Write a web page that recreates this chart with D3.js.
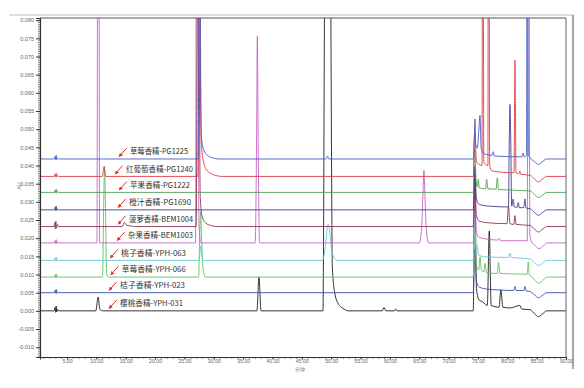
<!DOCTYPE html>
<html><head><meta charset="utf-8">
<script src="https://cdn.jsdelivr.net/npm/d3@7"></script>
<style>body{margin:0;background:#fff}svg{display:block}</style>
</head><body><svg id="c" width="584" height="388"></svg>
<script>
// ---------------- DATA ----------------
const sampleNames = ["樱桃香精-YPH-031","桔子香精-YPH-023","草莓香精-YPH-066","桃子香精-YPH-063","杂果香精-BEM1003",
  "菠萝香精-BEM1004","橙汁香精-PG1690","苹果香精-PG1222","红葡萄香精-PG1240","草莓香精-PG1225"];
const baselines = [0.000, 0.0050, 0.0093, 0.0139, 0.0187, 0.0232, 0.0278, 0.0326, 0.0370, 0.0418];
const xTickValues = [5,10,15,20,25,30,35,40,45,50,55,60,65,70,75,80,85,90];
const yTickValues = [-0.010,-0.005,0.000,0.005,0.010,0.015,0.020,0.025,0.030,0.035,0.040,0.045,0.050,0.055,0.060,0.065,0.070,0.075,0.080];

// [minutes, AU above the trace baseline]
const tYPH031 = [[0.4,0],[2.8,0],[2.95,0.0009],[3.05,-0.0004],[3.15,0.0013],[3.25,-0.0003],[3.4,0.0004],[3.6,0],
 [9.9,0],[10.3,0.0038],[10.6,0.0004],[11.1,0],
 [37.35,0],[37.7,0.0093],[38.05,0],
 [48.6,0],[48.85,0.08],[49.4,0.3],[49.95,0.08],[50.2,0.012],[50.6,0.005],[51.2,0.002],[52,0.0007],[53,0],
 [58.7,0],[59,0.0009],[59.3,0],[60.8,0],[61,0.0005],[61.2,0],
 [74.2,0],[74.45,0.039],[74.75,0.006],[75.2,0.003],[75.8,0.0025],[76.6,0.0015],[76.93,0.022],[77.25,0.0015],[78.6,0.001],[78.9,0.0058],[79.25,0.001],[80.5,0.0008],[82.15,0.0015],[82.45,0.0005],[83.9,0.0003],[84.7,-0.0009],[85.3,-0.0016],[86.1,-0.0007],[86.7,0],[90,0]];
const tYPH023 = [[0.4,0],[2.8,0],[2.95,0.0006],[3.05,-0.0002],[3.15,0.0009],[3.25,-0.0002],[3.4,0.0003],[3.6,0],
 [74.2,0],[74.45,0.012],[74.75,0.003],[75.3,0.0015],[76.5,0.001],[78,0.0008],[81.1,0.0006],[81.3,0.0017],[81.5,0.0006],[82.8,0.0006],[83.0,0.0017],[83.2,0.0005],[83.9,0.0003],[84.7,-0.0007],[85.3,-0.0014],[86.1,-0.0006],[86.7,0],[90,0]];
const tYPH066 = [[0.4,0],[2.8,0],[2.95,0.0006],[3.05,-0.0002],[3.15,0.0009],[3.25,-0.0002],[3.4,0.0003],[3.6,0],
 [11.05,0],[11.25,0.02],[11.4,0.0305],[11.55,0.02],[11.75,0.001],[12.1,0],
 [27.4,0],[27.62,0.012],[27.77,0.018],[27.92,0.011],[28.2,0.002],[28.6,0],
 [74.2,0],[74.45,0.012],[74.75,0.003],[75.15,0.002],[75.35,0.0056],[75.6,0.0018],[76.0,0.0015],[76.2,0.0038],[76.45,0.0012],[78.3,0.001],[78.5,0.004],[78.75,0.001],[83.4,0.0008],[83.57,0.0042],[83.75,0.0006],[84.0,0.0003],[84.75,-0.0009],[85.35,-0.0017],[86.15,-0.0007],[86.8,0],[90,0]];
const tYPH063 = [[0.4,0],[2.8,0],[2.95,0.0006],[3.05,-0.0002],[3.15,0.0009],[3.25,-0.0002],[3.4,0.0003],[3.6,0],
 [27.5,0],[27.8,0.004],[28.1,0],
 [48.5,0],[48.95,0.003],[49.3,0.0085],[49.5,0.0099],[49.7,0.0088],[50.0,0.004],[50.4,0.001],[51,0],
 [74.2,0],[74.45,0.012],[74.65,0.004],[74.8,0.0044],[75.1,0.0015],[76,0.001],[80.25,0.0008],[80.46,0.002],[80.7,0.0008],[83.9,0.0004],[84.7,-0.0007],[85.3,-0.0014],[86.1,-0.0006],[86.7,0],[90,0]];
const tBEM1003 = [[0.4,0],[2.8,0],[2.95,0.0006],[3.05,-0.0002],[3.15,0.0009],[3.25,-0.0002],[3.4,0.0003],[3.6,0],
 [10.1,0],[10.22,0.1],[10.33,0.15],[10.44,0.1],[10.56,0],
 [26.9,0],[27.03,0.1],[27.14,0.15],[27.28,0.08],[27.48,0.005],[27.8,0],
 [37.05,0],[37.3,0.03],[37.42,0.057],[37.55,0.03],[37.8,0],
 [65.0,0],[65.4,0.004],[65.65,0.014],[65.8,0.020],[65.95,0.014],[66.2,0.004],[66.6,0],
 [74.2,0],[74.45,0.012],[74.75,0.003],[75.2,0.0015],[78.45,0.0008],[78.65,0.0013],[78.85,0.0006],[83.4,0.0006],[83.5,0.1],[83.6,0.15],[83.7,0.1],[83.85,0.002],[84.1,0.0004],[84.8,-0.0008],[85.4,-0.0016],[86.2,-0.0007],[86.8,0],[90,0]];
const tBEM1004 = [[0.4,0],[2.8,0],[2.9,0.0011],[3.0,-0.0006],[3.1,0.0015],[3.2,-0.0005],[3.35,0.0006],[3.6,0],
 [14.4,0],[14.8,0.0012],[15.1,0.0004],[15.7,0.0002],[16.5,0],
 [27.0,0],[27.15,0.05],[27.3,0.15],[27.5,0.06],[27.7,0.008],[28.0,0.003],[28.6,0.001],[29.5,0.0003],[30.5,0],
 [74.2,0],[74.45,0.012],[74.75,0.003],[75.2,0.0015],[77,0.001],[79.95,0.0008],[80.2,0.0056],[80.45,0.0008],[81.1,0.0006],[81.3,0.003],[81.5,0.0006],[83.9,0.0003],[84.7,-0.0008],[85.3,-0.0015],[86.1,-0.0006],[86.7,0],[90,0]];
const tPG1690 = [[0.4,0],[2.8,0],[2.95,0.0007],[3.05,-0.0002],[3.15,0.001],[3.25,-0.0002],[3.4,0.0003],[3.6,0],
 [74.2,0],[74.45,0.012],[74.75,0.003],[75.2,0.0015],[77,0.001],[80.2,0.0008],[80.33,0.018],[80.46,0.029],[80.6,0.018],[80.75,0.001],[81.0,0.003],[81.2,0.0008],[81.7,0.0007],[81.87,0.002],[82.05,0.0006],[82.8,0.0006],[83.0,0.003],[83.2,0.0005],[83.9,0.0003],[84.7,-0.0008],[85.3,-0.0015],[86.1,-0.0006],[86.7,0],[90,0]];
const tPG1222 = [[0.4,0],[2.8,0],[2.95,0.0006],[3.05,-0.0002],[3.15,0.0009],[3.25,-0.0002],[3.4,0.0003],[3.6,0],
 [74.2,0],[74.45,0.012],[74.7,0.003],[74.9,0.0015],[75.06,0.0036],[75.25,0.0012],[76.3,0.001],[76.48,0.0036],[76.7,0.001],[78.1,0.0009],[78.3,0.004],[78.5,0.0008],[83.9,0.0004],[84.7,-0.0007],[85.3,-0.0014],[86.1,-0.0006],[86.7,0],[90,0]];
const tPG1240 = [[0.4,0],[2.8,0],[2.95,0.0006],[3.05,-0.0002],[3.15,0.0009],[3.25,-0.0002],[3.4,0.0003],[3.6,0],
 [11.0,0],[11.2,0.0018],[11.3,0.0027],[11.4,0.0018],[11.6,0],
 [27.3,0],[27.45,0.06],[27.57,0.15],[27.7,0.04],[27.85,0.01],[28.2,0.0045],[28.7,0.002],[29.5,0.0008],[30.5,0.0002],[31.5,0],
 [74.2,0],[74.45,0.012],[74.75,0.004],[75.7,0.003],[75.76,0.08],[75.83,0.12],[75.9,0.08],[76.0,0.004],[76.7,0.003],[76.75,0.08],[76.82,0.12],[76.9,0.08],[77.0,0.003],[77.4,0.0015],[81.15,0.001],[81.24,0.02],[81.31,0.032],[81.38,0.02],[81.48,0.001],[82.0,0.0008],[82.16,0.0015],[82.3,0.0006],[83.9,0.0003],[84.7,-0.0008],[85.3,-0.0015],[86.1,-0.0006],[86.7,0],[90,0]];
const tPG1225 = [[0.4,0],[2.8,0],[2.95,0.0007],[3.05,-0.0002],[3.15,0.001],[3.25,-0.0002],[3.4,0.0003],[3.6,0],
 [27.35,0],[27.5,0.06],[27.62,0.15],[27.75,0.03],[27.9,0.006],[28.3,0.0025],[28.9,0.001],[29.8,0.0003],[30.8,0],
 [49.1,0],[49.35,0.0008],[49.6,0],
 [74.2,0],[74.38,0.006],[74.5,0.011],[74.62,0.004],[74.9,0.003],[75.15,0.008],[75.35,0.012],[75.55,0.003],[76,0.0015],[77.4,0.001],[77.6,0.002],[77.8,0.0008],[82.5,0.0006],[82.7,0.0016],[82.9,0.0006],[83.28,0.001],[83.36,0.1],[83.42,0.15],[83.48,0.1],[83.6,0.001],[83.9,0.0003],[84.7,-0.0008],[85.3,-0.0015],[86.1,-0.0006],[86.7,0],[90,0]];
const traces = [tYPH031,tYPH023,tYPH066,tYPH063,tBEM1003,tBEM1004,tPG1690,tPG1222,tPG1240,tPG1225];

// ---------------- LAYOUT / STYLE ----------------
const colors = ["#1e1e1e","#3a4ea6","#5cc25c","#62c9d2","#c562c5","#8c3552","#3d3d90","#4e9e52","#e23a46","#4a5cc0"];
const labelX = [120,120,121.7,121,128,129,129,130,126,130];
const labelW = [63,65,64,65,65,64,62,60,67,58];
const L = 40, R = 566, T = 18, B = 357;

const svg = d3.select("#c");
const x = d3.scaleLinear().domain([0.4, 90]).range([L, R]);
const y = d3.scaleLinear().domain([-0.0127, 0.0806]).range([B, T]);

// outer frame
svg.append("line").attr("x1",9).attr("x2",573).attr("y1",15).attr("y2",15).attr("stroke","#d4d4d4").attr("stroke-width",1.5);
svg.append("line").attr("x1",573).attr("x2",573).attr("y1",15).attr("y2",369).attr("stroke","#a8a8a8").attr("stroke-width",2.2);

const defs = svg.append("defs");
defs.append("clipPath").attr("id","clip").append("rect")
  .attr("x",L).attr("y",T).attr("width",R-L).attr("height",B-T);

// traces
const line = d3.line().x(d=>x(d[0])).curve(d3.curveMonotoneX);
const g = svg.append("g").attr("clip-path","url(#clip)");
traces.forEach((tr,i)=>{
  g.append("path").attr("d", line.y(d=>y(d[1]+baselines[i]))(tr))
   .attr("fill","none").attr("stroke",colors[i]).attr("stroke-width",0.9).attr("stroke-linejoin","round");
});

// plot border
svg.append("line").attr("x1",L).attr("x2",R).attr("y1",T).attr("y2",T).attr("stroke","#555").attr("stroke-width",1);
svg.append("line").attr("x1",R).attr("x2",R).attr("y1",T).attr("y2",B).attr("stroke","#666").attr("stroke-width",1);

// axes
const fmtY = d => d.toFixed(3);
const fmtX = d => d.toFixed(2);
const yMinor = d3.range(-0.0125, 0.08051, 0.0005);
const xMinor = d3.range(1, 90.01, 1);
svg.append("g").attr("transform",`translate(${L},0)`)
  .call(d3.axisLeft(y).tickValues(yMinor).tickSize(2).tickFormat(""))
  .call(a=>a.select(".domain").remove())
  .selectAll("line").attr("stroke","#444").attr("stroke-width",0.6);
const ya = svg.append("g").attr("transform",`translate(${L},0)`)
  .call(d3.axisLeft(y).tickValues(yTickValues).tickSize(4).tickPadding(2).tickFormat(fmtY));
ya.select(".domain").attr("stroke","#333").attr("stroke-width",1.2);
ya.selectAll("line").attr("stroke","#333");
ya.selectAll("text").attr("font-family","Liberation Sans, Arial, sans-serif").attr("font-size",5.5).attr("fill","#666");

svg.append("g").attr("transform",`translate(0,${B})`)
  .call(d3.axisBottom(x).tickValues(xMinor).tickSize(2).tickFormat(""))
  .call(a=>a.select(".domain").remove())
  .selectAll("line").attr("stroke","#444").attr("stroke-width",0.6);
const xa = svg.append("g").attr("transform",`translate(0,${B})`)
  .call(d3.axisBottom(x).tickValues(xTickValues).tickSize(2.5).tickPadding(0).tickFormat(fmtX));
xa.select(".domain").attr("stroke","#333").attr("stroke-width",1.2);
xa.selectAll("line").attr("stroke","#333");
xa.selectAll("text").attr("font-family","Liberation Sans, Arial, sans-serif").attr("font-size",5.2).attr("fill","#666");

// axis titles
svg.append("text").attr("x",300).attr("y",371).attr("text-anchor","middle")
  .attr("font-family","Noto Sans CJK SC, sans-serif").attr("font-size",5).attr("fill","#888").text("分钟");
svg.append("text").attr("transform","translate(21,186) rotate(-90)").attr("text-anchor","middle")
  .attr("font-family","Liberation Sans, Arial, sans-serif").attr("font-size",5.5).attr("fill","#888").text("AU");

// labels with red arrows
defs.append("marker").attr("id","ah").attr("viewBox","0 0 10 10").attr("refX",8).attr("refY",5)
  .attr("markerWidth",4).attr("markerHeight",4).attr("orient","auto")
  .append("path").attr("d","M0,0 L10,5 L0,10 z").attr("fill","#e0302c");
sampleNames.forEach((name,i)=>{
  const ty = y(baselines[i]) - 7.5;
  const tx = labelX[i];
  svg.append("line").attr("x1",tx-3.3).attr("y1",ty-3.4).attr("x2",tx-10.7).attr("y2",ty+5)
    .attr("stroke","#e0302c").attr("stroke-width",1).attr("marker-end","url(#ah)");
  svg.append("text").attr("x",tx).attr("y",ty).attr("dy","0.35em")
    .attr("font-family","Noto Sans CJK SC, sans-serif").attr("font-size",8).attr("fill","#333")
    .attr("textLength",labelW[i]).attr("lengthAdjust","spacingAndGlyphs").text(name);
});
</script></body></html>
